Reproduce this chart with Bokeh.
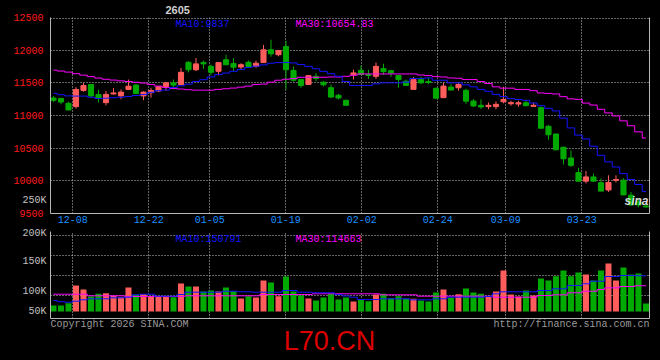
from bokeh.plotting import figure
from bokeh.models import (FixedTicker, CustomJSTickFormatter, Label, LinearAxis,
                          Range1d, ColumnDataSource, Title)
from bokeh.layouts import column
from bokeh.embed import file_html
from bokeh.resources import INLINE

# ---------------- data ----------------
contract = "2605"
symbol = "L70.CN"
date_labels = ["12-08", "12-22", "01-05", "01-19", "02-02", "02-24", "03-09", "03-23"]
date_pos = [2.57, 12.71, 20.84, 30.97, 41.11, 51.24, 60.31, 70.44]

open_ = [11267, 11262, 11186, 11136, 11383, 11474, 11320, 11197, 11330, 11300,
         11399, 11465, 11300, 11348, 11375, 11445, 11500, 11474, 11815, 11700,
         11812, 11752, 11676, 11853, 11795, 11742, 11815, 11752, 11810, 12005,
         11930, 12055, 11690, 11550, 11475, 11600, 11510, 11425, 11310, 11232,
         11626, 11690, 11630, 11600, 11717, 11686, 11611, 11525, 11400, 11550,
         11520, 11415, 11273, 11435, 11424, 11385, 11221, 11156, 11136, 11136,
         11210, 11180, 11175, 11195, 11140, 11120, 10835, 10717, 10515, 10350,
         10126, 9995, 10060, 9970, 9860, 10010, 10010, 9780, 9680, 9615]
high = [11297, 11265, 11212, 11434, 11500, 11480, 11395, 11373, 11420, 11399,
        11550, 11480, 11370, 11425, 11455, 11515, 11550, 11727, 11830, 11880,
        11840, 11780, 11820, 11930, 11878, 11800, 11840, 11840, 12080, 12160,
        12000, 12145, 11750, 11555, 11615, 11650, 11525, 11475, 11330, 11245,
        11702, 11765, 11700, 11812, 11792, 11700, 11615, 11550, 11590, 11590,
        11580, 11430, 11500, 11480, 11500, 11410, 11250, 11247, 11200, 11215,
        11440, 11225, 11225, 11240, 11200, 11140, 10855, 10720, 10520, 10465,
        10200, 10150, 10110, 10035, 10085, 10085, 10040, 9830, 9720, 9660]
low = [11206, 11171, 11080, 11106, 11364, 11267, 11200, 11156, 11320, 11250,
       11395, 11330, 11235, 11273, 11360, 11380, 11400, 11470, 11660, 11680,
       11712, 11620, 11615, 11770, 11680, 11700, 11745, 11730, 11805, 11900,
       11905, 11400, 11520, 11425, 11470, 11525, 11445, 11270, 11245, 11155,
       11550, 11620, 11560, 11560, 11620, 11590, 11425, 11455, 11395, 11480,
       11480, 11250, 11270, 11385, 11380, 11180, 11130, 11100, 11095, 11095,
       11186, 11150, 11135, 11140, 11130, 10800, 10630, 10470, 10250, 10210,
       9990, 9960, 9990, 9840, 9830, 9975, 9780, 9620, 9595, 9590]
close = [11232, 11206, 11085, 11399, 11459, 11300, 11270, 11323, 11345, 11358,
         11449, 11335, 11358, 11383, 11440, 11500, 11465, 11661, 11700, 11790,
         11790, 11661, 11810, 11777, 11740, 11777, 11750, 11800, 12005, 11944,
         11995, 11700, 11540, 11460, 11610, 11565, 11470, 11282, 11268, 11156,
         11652, 11626, 11612, 11752, 11671, 11650, 11550, 11460, 11550, 11500,
         11505, 11265, 11450, 11390, 11474, 11220, 11146, 11131, 11156, 11171,
         11245, 11197, 11195, 11150, 11156, 10805, 10705, 10475, 10338, 10237,
         9995, 10060, 9995, 9843, 9975, 10020, 9785, 9630, 9630, 9600]
volume = [43300, 43300, 51600, 115500, 101100, 75800, 85600, 87700, 78300, 73300,
          108300, 81900, 84100, 75800, 75800, 75800, 73300, 122700, 111900, 111900,
          93900, 97500, 93900, 108300, 94900, 68600, 76900, 72200, 133600, 126400,
          76900, 148000, 93900, 79400, 68600, 61400, 72200, 85600, 65000, 72200,
          57800, 63900, 58800, 83000, 85600, 69700, 76900, 67500, 67500, 61400,
          57800, 90300, 101100, 72200, 84100, 104700, 90300, 85600, 75800, 93900,
          169700, 83000, 75800, 97500, 79400, 140800, 133600, 149100, 169700, 149100,
          162500, 155200, 133600, 169700, 194900, 133600, 180500, 155200, 158800, 50500]
ma10 = [11340, 11318, 11300, 11297, 11297, 11280, 11260, 11265, 11272, 11280,
        11292, 11306, 11320, 11355, 11380, 11390, 11430, 11455, 11480, 11520,
        11548, 11590, 11626, 11650, 11676, 11705, 11735, 11755, 11775, 11800,
        11810, 11812, 11805, 11780, 11752, 11715, 11676, 11640, 11600, 11520,
        11459, 11459, 11459, 11485, 11500, 11500, 11500, 11510, 11565, 11565,
        11575, 11540, 11540, 11500, 11500, 11470, 11439, 11400, 11370, 11323,
        11290, 11258, 11245, 11232, 11190, 11150, 11110, 11070, 10960, 10810,
        10700, 10641, 10530, 10390, 10290, 10212, 10111, 10020, 9944, 9837]
ma30 = [11694, 11680, 11664, 11640, 11618, 11595, 11573, 11555, 11542, 11530,
        11520, 11508, 11497, 11475, 11450, 11430, 11415, 11405, 11395, 11388,
        11388, 11388, 11400, 11409, 11420, 11434, 11450, 11474, 11480, 11510,
        11540, 11555, 11565, 11585, 11585, 11585, 11585, 11590, 11590, 11600,
        11615, 11636, 11636, 11636, 11636, 11636, 11636, 11636, 11636, 11620,
        11611, 11595, 11590, 11575, 11570, 11550, 11550, 11520, 11490, 11439,
        11418, 11418, 11399, 11399, 11380, 11345, 11338, 11330, 11288, 11255,
        11247, 11190, 11160, 11095, 11040, 10994, 10918, 10843, 10750, 10655]
vol_ma10 = [61400, 57000, 55200, 58800, 63900, 67500, 67500, 67500, 71100, 71100,
            73300, 82000, 84100, 84100, 76900, 76900, 76900, 83000, 91300, 91300,
            91300, 91300, 91300, 94900, 94900, 92800, 92800, 91300, 91300, 91300,
            91300, 97500, 97500, 91300, 91300, 89200, 89200, 89200, 83000, 78000,
            73300, 65000, 65000, 65000, 67500, 67500, 67500, 67500, 63900, 63900,
            63900, 67500, 67500, 73300, 73300, 73300, 73300, 73300, 75800, 85600,
            92800, 92800, 92800, 92800, 92800, 97500, 97500, 103600, 103600, 115500,
            115500, 121700, 131000, 131000, 148000, 148000, 151600, 151600, 150800, 150791]
vol_ma30 = [84000, 84000, 84000, 84000, 84000, 78300, 78300, 78300, 78300, 78300,
            75800, 75800, 75800, 75800, 75800, 75800, 75800, 75800, 78300, 78300,
            78300, 78300, 78300, 78300, 78300, 78300, 78300, 78300, 83000, 83000,
            83000, 83000, 83000, 83000, 83000, 85600, 85600, 85600, 85600, 85600,
            85600, 85600, 85600, 85600, 81900, 81900, 81900, 81900, 81900, 76900,
            76900, 76900, 76900, 76900, 76900, 76900, 76900, 76900, 76900, 73300,
            73300, 73300, 73300, 73300, 73300, 79400, 79400, 81900, 81900, 89200,
            89200, 94900, 94900, 101100, 107200, 107200, 111900, 111900, 114663, 114663]

price_ticks = [9500, 10000, 10500, 11000, 11500, 12000, 12500]
vol_labels = ["200K", "150K", "100K", "50K"]

# ---------------- styling / layout constants ----------------
RED = "#ff5c5c"
GREEN = "#00aa00"
BLUE = "#1414ff"
MAGENTA = "#ff00ff"
GRID = "#c8c8c8"
BORDER = "#b8b8b8"
LABEL_GRAY = "#c0c0c0"
FONT = "Liberation Mono"

FRAME_L, FRAME_W, BORDER_R = 50, 599, 11     # page px
X0, X1 = -0.4, 79.47
PA_TOP, PA_H = 17, 196              # price frame (page px)
P0, P1 = 9500, 12500
PB_TOP, PB_H = 231, 87              # volume frame (page px)
V1 = (317 - 231) * 3610
V0 = (317 - 318) * 3610
FOOT_TOP = 319


def xd(px):
    return X0 + (px - FRAME_L) * (X1 - X0) / FRAME_W


def yp(py):
    return P1 - (py - PA_TOP) * (P1 - P0) / PA_H


def yv(py):
    return V1 - (py - PB_TOP) * (V1 - V0) / PB_H


vol_label_pos = [yv(231), yv(261), yv(291), yv(311)]
vol_grid_pos = [yv(234.7), yv(255.3), yv(275.3), yv(295.3)]
VOL_BASE = yv(311)

idx = list(range(len(close)))
colors = [RED if c >= o else GREEN for o, c in zip(open_, close)]
src = ColumnDataSource(dict(
    x=idx, o=open_, h=high, l=low, c=close,
    top=[max(o, c) for o, c in zip(open_, close)],
    bot=[min(o, c) for o, c in zip(open_, close)],
    color=colors, vol=volume,
))

xr = Range1d(X0, X1)


def style(p):
    p.background_fill_color = "black"
    p.border_fill_color = "black"
    p.outline_line_color = None
    p.grid.grid_line_color = GRID
    p.grid.grid_line_dash = "1 2"
    p.grid.grid_line_width = 1


def plain_axis(**kw):
    return LinearAxis(major_tick_line_color=None, minor_tick_line_color=None,
                      major_tick_out=0, major_tick_in=0, minor_tick_out=0,
                      major_label_text_font=FONT, major_label_text_font_size="10px",
                      **kw)


# ---------------- price panel ----------------
pA = figure(frame_width=FRAME_W, frame_height=PA_H, x_range=xr,
            y_range=Range1d(P0, P1), output_backend="svg", toolbar_location=None,
            min_border_left=FRAME_L, min_border_right=BORDER_R, min_border_top=PA_TOP,
            min_border_bottom=14, y_axis_location=None)
style(pA)
pA.xgrid.ticker = FixedTicker(ticks=date_pos)
pA.ygrid.ticker = FixedTicker(ticks=[t - 8 if t == P1 else t for t in price_ticks[1:]])

ax = pA.xaxis[0]
ax.ticker = FixedTicker(ticks=date_pos)
ax.formatter = CustomJSTickFormatter(args=dict(labels=date_labels),
                                     code="return labels[index];")
ax.axis_line_color = BORDER
ax.major_tick_line_color = None
ax.minor_tick_line_color = None
ax.major_tick_out = 0
ax.major_label_text_color = "#1a8fff"
ax.major_label_text_font = FONT
ax.major_label_text_font_size = "10px"
ax.major_label_standoff = 2

# inner left axis: the stray volume label of the original chart
a250 = plain_axis(ticker=FixedTicker(ticks=[yp(200)]),
                  formatter=CustomJSTickFormatter(args=dict(labels=["250K"]),
                                                  code="return labels[index];"),
                  axis_line_color=BORDER, major_label_text_color=LABEL_GRAY,
                  major_label_standoff=4)
pA.add_layout(a250, "left")
# outer left axis: price labels, pulled back so they line up at the same edge
ay = plain_axis(ticker=FixedTicker(ticks=price_ticks), axis_line_color=None,
                major_label_text_color="#ff1a1a", major_label_standoff=-24)
pA.add_layout(ay, "left")

ar = plain_axis(ticker=FixedTicker(ticks=[]), axis_line_color=BORDER)
pA.add_layout(ar, "right")

# small contract code above the chart
pA.add_layout(Title(text=contract, align="left", offset=115, standoff=3,
                    text_font="Liberation Sans", text_font_size="11px",
                    text_font_style="bold", text_color="#d0d0d0",
                    vertical_align="top"), "above")

pA.segment(x0="x", y0="l", x1="x", y1="h", line_color="color", line_width=1, source=src)
pA.vbar(x="x", width=0.68, top="top", bottom="bot", fill_color="color",
        line_color="color", line_width=1, source=src)
pA.step(idx, ma30, mode="center", line_color=MAGENTA, line_width=1)
pA.step(idx, ma10, mode="center", line_color=BLUE, line_width=1)

for txt, px, color in [("MA10:9837", 175, BLUE), ("MA30:10654.83", 295, MAGENTA)]:
    pA.add_layout(Label(x=xd(px), y=yp(23.5), text=txt, text_color=color,
                        text_font=FONT, text_font_size="10px",
                        text_baseline="middle", text_align="left"))
# sina watermark in the lower right corner of the price panel
pA.add_layout(Label(x=xd(636), y=yp(200), text="sina", text_color="#d8d8d8",
                    text_font="Liberation Sans", text_font_size="12px",
                    text_font_style="bold italic",
                    text_baseline="middle", text_align="center"))

# ---------------- volume panel ----------------
pB = figure(frame_width=FRAME_W, frame_height=PB_H, x_range=xr,
            y_range=Range1d(V0, V1), output_backend="svg", toolbar_location=None,
            min_border_left=FRAME_L, min_border_right=BORDER_R, min_border_top=4,
            min_border_bottom=1)
style(pB)
pB.xgrid.ticker = FixedTicker(ticks=date_pos)
pB.ygrid.ticker = FixedTicker(ticks=vol_grid_pos)

bx = pB.xaxis[0]
bx.ticker = FixedTicker(ticks=[])
bx.axis_line_color = BORDER
bx.major_tick_line_color = None
bx.minor_tick_line_color = None
bx.major_tick_out = 0
bx.major_label_standoff = 0

by = pB.yaxis[0]
by.ticker = FixedTicker(ticks=vol_label_pos)
by.formatter = CustomJSTickFormatter(args=dict(labels=vol_labels),
                                     code="return labels[index];")
by.axis_line_color = BORDER
by.major_tick_line_color = None
by.minor_tick_line_color = None
by.major_tick_out = 0
by.major_label_text_color = LABEL_GRAY
by.major_label_text_font = FONT
by.major_label_text_font_size = "10px"
by.major_label_standoff = 4

br = plain_axis(ticker=FixedTicker(ticks=[]), axis_line_color=BORDER)
pB.add_layout(br, "right")

pB.vbar(x="x", width=0.8, top="vol", bottom=VOL_BASE, fill_color="color",
        line_color=None, source=src)
pB.step(idx, vol_ma30, mode="center", line_color=MAGENTA, line_width=1)
pB.step(idx, vol_ma10, mode="center", line_color=BLUE, line_width=1)

for txt, px, color in [("MA10:150791", 175, BLUE), ("MA30:114663", 295, MAGENTA)]:
    pB.add_layout(Label(x=xd(px), y=yv(238.5), text=txt, text_color=color,
                        text_font=FONT, text_font_size="10px",
                        text_baseline="middle", text_align="left"))

# ---------------- footer ----------------
pC = figure(frame_width=FRAME_W, frame_height=360 - FOOT_TOP, x_range=xr,
            y_range=Range1d(360, FOOT_TOP),
            x_axis_location=None, y_axis_location=None,
            min_border_left=FRAME_L, min_border_right=BORDER_R,
            min_border_top=0, min_border_bottom=0,
            output_backend="svg", toolbar_location=None)
pC.background_fill_color = "black"
pC.border_fill_color = "black"
pC.outline_line_color = None
pC.grid.visible = False

pC.add_layout(Label(x=xd(50), y=324, text="Copyright 2026 SINA.COM",
                    text_color="#9a9a9a", text_font=FONT, text_font_size="10px",
                    text_baseline="middle", text_align="left"))
pC.add_layout(Label(x=xd(649), y=324, text="http://finance.sina.com.cn",
                    text_color="#9a9a9a", text_font=FONT, text_font_size="10px",
                    text_baseline="middle", text_align="right"))
pC.add_layout(Label(x=xd(329), y=340, text=symbol, text_color="#dd0000",
                    text_font="Liberation Sans", text_font_size="27px",
                    text_baseline="middle", text_align="center"))

layout_kwargs = {}
try:
    from bokeh.models import GlobalInlineStyleSheet
    layout_kwargs["stylesheets"] = [GlobalInlineStyleSheet(css="html, body { background: #000000; }")]
except Exception:
    pass

lay = column(pA, pB, pC, spacing=0, **layout_kwargs)
open("out.html", "w").write(file_html(lay, INLINE))
